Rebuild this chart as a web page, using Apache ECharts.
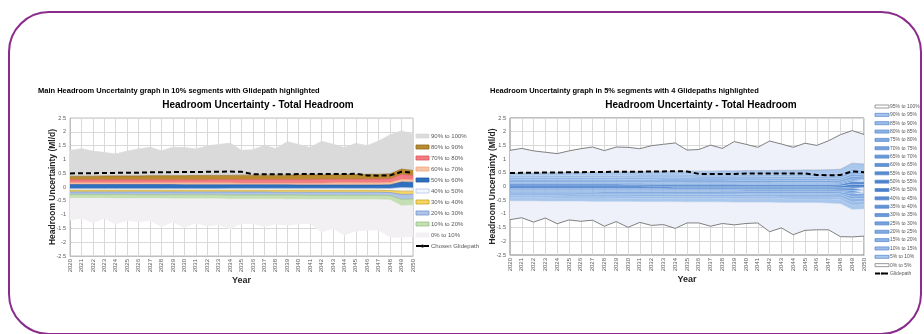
<!DOCTYPE html>
<html>
<head>
<meta charset="utf-8">
<script src="https://cdn.jsdelivr.net/npm/echarts@6/dist/echarts.min.js"></script>
<style>
  html, body { margin: 0; background: #fff; }
  #chart { width: 924px; height: 334px; }
</style>
</head>
<body>
<div id="chart"></div>
<script>
// 年份（X轴）
var years = ['2020','2021','2022','2023','2024','2025','2026','2027','2028','2029','2030',
  '2031','2032','2033','2034','2035','2036','2037','2038','2039','2040',
  '2041','2042','2043','2044','2045','2046','2047','2048','2049','2050'];
var yTicks = [-2.5, 2.5, 0.5]; // min, max, interval

// 各百分位边界 (Ml/d)
var p100 = [1.32,1.39,1.30,1.25,1.20,1.30,1.38,1.44,1.31,1.44,1.43,1.38,1.49,1.54,1.59,1.33,1.35,1.51,1.39,1.64,1.54,1.43,1.66,1.55,1.43,1.58,1.50,1.67,1.89,2.04,1.90];
var p95 = [0.48,0.49,0.49,0.50,0.50,0.51,0.51,0.52,0.52,0.53,0.53,0.54,0.54,0.55,0.55,0.56,0.56,0.56,0.57,0.57,0.58,0.58,0.58,0.59,0.59,0.60,0.60,0.61,0.63,0.85,0.82];
var p90 = [0.39,0.39,0.39,0.40,0.40,0.40,0.40,0.41,0.41,0.41,0.41,0.42,0.42,0.42,0.42,0.43,0.43,0.43,0.43,0.43,0.44,0.44,0.44,0.44,0.45,0.45,0.46,0.46,0.48,0.65,0.60];
var p85 = [0.32,0.32,0.32,0.32,0.33,0.33,0.33,0.33,0.33,0.33,0.34,0.34,0.34,0.34,0.34,0.34,0.35,0.35,0.35,0.35,0.35,0.35,0.36,0.36,0.36,0.36,0.37,0.37,0.39,0.55,0.51];
var p80 = [0.26,0.26,0.26,0.26,0.26,0.26,0.26,0.26,0.26,0.26,0.26,0.26,0.26,0.27,0.27,0.27,0.27,0.27,0.27,0.27,0.27,0.27,0.28,0.28,0.28,0.28,0.28,0.29,0.30,0.46,0.42];
var p75 = [0.20,0.20,0.20,0.20,0.20,0.20,0.20,0.20,0.20,0.20,0.20,0.20,0.20,0.20,0.20,0.20,0.20,0.20,0.20,0.21,0.21,0.21,0.21,0.21,0.21,0.21,0.21,0.22,0.23,0.37,0.34];
var p70 = [0.15,0.15,0.15,0.15,0.15,0.15,0.15,0.15,0.15,0.15,0.15,0.15,0.15,0.15,0.15,0.14,0.14,0.14,0.14,0.14,0.14,0.14,0.14,0.15,0.15,0.15,0.15,0.15,0.16,0.28,0.26];
var p65 = [0.12,0.12,0.12,0.12,0.12,0.12,0.12,0.12,0.12,0.12,0.12,0.12,0.11,0.11,0.11,0.11,0.11,0.11,0.11,0.11,0.11,0.11,0.11,0.11,0.11,0.11,0.11,0.11,0.12,0.23,0.21];
var p60 = [0.09,0.09,0.09,0.09,0.09,0.09,0.09,0.09,0.09,0.09,0.08,0.08,0.08,0.08,0.08,0.08,0.08,0.08,0.08,0.08,0.07,0.07,0.07,0.07,0.07,0.07,0.07,0.07,0.08,0.18,0.17];
var p55 = [0.02,0.02,0.02,0.02,0.02,0.02,0.02,0.02,0.02,0.02,0.02,0.02,0.01,0.01,0.01,0.01,0.01,0.01,0.01,0.01,0.01,0.01,0.01,0.01,0.01,0.01,0.01,0.01,0.02,0.08,0.07];
var p50 = [-0.06,-0.06,-0.06,-0.06,-0.06,-0.06,-0.06,-0.06,-0.06,-0.06,-0.06,-0.06,-0.06,-0.06,-0.05,-0.05,-0.05,-0.05,-0.05,-0.05,-0.05,-0.05,-0.05,-0.05,-0.05,-0.05,-0.05,-0.05,-0.05,-0.02,-0.03];
var p45 = [-0.09,-0.09,-0.09,-0.09,-0.09,-0.09,-0.09,-0.09,-0.09,-0.09,-0.09,-0.09,-0.09,-0.09,-0.09,-0.09,-0.09,-0.09,-0.09,-0.09,-0.09,-0.09,-0.09,-0.09,-0.09,-0.09,-0.09,-0.09,-0.09,-0.08,-0.09];
var p40 = [-0.12,-0.12,-0.12,-0.12,-0.12,-0.12,-0.12,-0.12,-0.12,-0.12,-0.12,-0.12,-0.12,-0.12,-0.12,-0.12,-0.12,-0.12,-0.12,-0.12,-0.12,-0.12,-0.12,-0.12,-0.12,-0.12,-0.12,-0.12,-0.13,-0.15,-0.15];
var p35 = [-0.15,-0.15,-0.15,-0.15,-0.15,-0.15,-0.15,-0.15,-0.15,-0.15,-0.15,-0.15,-0.15,-0.15,-0.15,-0.15,-0.15,-0.15,-0.15,-0.15,-0.16,-0.16,-0.16,-0.16,-0.16,-0.16,-0.16,-0.16,-0.17,-0.21,-0.20];
var p30 = [-0.18,-0.18,-0.18,-0.18,-0.18,-0.18,-0.18,-0.18,-0.18,-0.18,-0.18,-0.18,-0.18,-0.18,-0.18,-0.18,-0.18,-0.18,-0.19,-0.19,-0.19,-0.19,-0.19,-0.19,-0.19,-0.19,-0.19,-0.19,-0.20,-0.27,-0.26];
var p25 = [-0.23,-0.23,-0.23,-0.23,-0.23,-0.23,-0.23,-0.23,-0.24,-0.24,-0.24,-0.24,-0.24,-0.24,-0.24,-0.24,-0.24,-0.24,-0.24,-0.24,-0.25,-0.25,-0.25,-0.25,-0.25,-0.25,-0.25,-0.25,-0.26,-0.36,-0.34];
var p20 = [-0.27,-0.27,-0.27,-0.27,-0.27,-0.27,-0.28,-0.28,-0.28,-0.28,-0.28,-0.28,-0.28,-0.28,-0.29,-0.29,-0.29,-0.29,-0.29,-0.29,-0.29,-0.30,-0.30,-0.30,-0.30,-0.30,-0.30,-0.30,-0.31,-0.45,-0.43];
var p15 = [-0.34,-0.34,-0.34,-0.34,-0.34,-0.35,-0.35,-0.35,-0.35,-0.35,-0.35,-0.36,-0.36,-0.36,-0.36,-0.36,-0.36,-0.37,-0.37,-0.37,-0.37,-0.37,-0.37,-0.38,-0.38,-0.38,-0.38,-0.38,-0.39,-0.57,-0.54];
var p10 = [-0.41,-0.41,-0.41,-0.41,-0.42,-0.42,-0.42,-0.42,-0.42,-0.43,-0.43,-0.43,-0.43,-0.43,-0.44,-0.44,-0.44,-0.44,-0.44,-0.45,-0.45,-0.45,-0.45,-0.45,-0.46,-0.46,-0.46,-0.46,-0.47,-0.69,-0.66];
var p5 = [-0.52,-0.52,-0.52,-0.53,-0.53,-0.53,-0.53,-0.54,-0.54,-0.54,-0.54,-0.55,-0.55,-0.55,-0.55,-0.56,-0.56,-0.56,-0.56,-0.57,-0.57,-0.57,-0.57,-0.58,-0.58,-0.58,-0.58,-0.60,-0.62,-0.83,-0.81];
var p0 = [-1.21,-1.14,-1.30,-1.15,-1.36,-1.22,-1.27,-1.23,-1.45,-1.28,-1.49,-1.31,-1.42,-1.39,-1.53,-1.33,-1.33,-1.45,-1.35,-1.40,-1.35,-1.33,-1.65,-1.51,-1.76,-1.60,-1.58,-1.58,-1.83,-1.84,-1.81];
// 滑行路径
var glidepath = [0.49,0.50,0.50,0.51,0.51,0.52,0.52,0.53,0.53,0.54,0.54,0.54,0.55,0.55,0.56,0.55,0.46,0.46,0.46,0.46,0.47,0.47,0.47,0.47,0.47,0.48,0.42,0.41,0.42,0.55,0.52];

// 左图：10% 分段
var leftBounds = [p0, p10, p20, p30, p40, p50, p60, p70, p80, p90, p100];
var leftNames = ['0% to 10%','10% to 20%','20% to 30%','30% to 40%','40% to 50%',
  '50% to 60%','60% to 70%','70% to 80%','80% to 90%','90% to 100%'];
var leftFill = ['#f2f0f3','#c5dfb4','#b0c4e8','#f8d663','#f3f6fc','#2f6fbf','#f8c4a6','#f27c82','#b98a2f','#dadada'];
var leftLine = ['#f2f0f3','#98c27e','#7394d0','#c8a22a','#b4c4e4','#245c9e','#eea882','#d9575e','#8f6a20','#dadada'];

// 右图：5% 分段
var rightBounds = [p0, p5, p10, p15, p20, p25, p30, p35, p40, p45, p50, p55, p60, p65, p70, p75, p80, p85, p90, p95, p100];
var rightNames = ['0% to 5%','5% to 10%','10% to 15%','15% to 20%','20% to 25%','25% to 30%','30% to 35%',
  '35% to 40%','40% to 45%','45% to 50%','50% to 55%','55% to 60%','60% to 65%','65% to 70%','70% to 75%',
  '75% to 80%','80% to 85%','85% to 90%','90% to 95%','95% to 100%'];
var rightFill = ['#eef1f9','#a9c6ec','#9cbde8','#8eb3e4','#81aae0','#75a1dc','#6a99d8','#5f91d4','#5689d0','#4a80cb',
  '#4a80cb','#5689d0','#5f91d4','#6a99d8','#75a1dc','#81aae0','#8eb3e4','#9cbde8','#a9c6ec','#eef1f9'];

var FONT = '"Liberation Sans", Arial, sans-serif';
var LABEL = '#595959';

function diff(upper, lower) {
  return upper.map(function (v, i) { return Math.round((v - lower[i]) * 1000) / 1000; });
}

var series = [];
// 左图基线（不显示）
series.push({
  type: 'line', name: 'baseL', xAxisIndex: 0, yAxisIndex: 0, stack: 'L', stackStrategy: 'all',
  data: p0, symbol: 'none', lineStyle: { width: 0 }, silent: true
});
for (var i = 0; i < leftNames.length; i++) {
  series.push({
    type: 'line', name: leftNames[i], xAxisIndex: 0, yAxisIndex: 0, stack: 'L', stackStrategy: 'all',
    data: diff(leftBounds[i + 1], leftBounds[i]), symbol: 'none', silent: true,
    lineStyle: { color: leftLine[i], width: 0.7 },
    itemStyle: { color: leftFill[i] },
    areaStyle: { color: leftFill[i], opacity: 1 }
  });
}
series.push({
  type: 'line', name: 'Chosen Glidepath', xAxisIndex: 0, yAxisIndex: 0, data: glidepath,
  symbol: 'none', z: 5, lineStyle: { color: '#000', width: 2, type: [5, 3] }, itemStyle: { color: '#000' }
});

// 右图基线（灰色最小值线）
series.push({
  type: 'line', name: 'baseR', xAxisIndex: 1, yAxisIndex: 1, stack: 'R', stackStrategy: 'all',
  data: p0, symbol: 'none', lineStyle: { width: 1, color: '#808080' }, silent: true
});
for (var j = 0; j < rightNames.length; j++) {
  var outer = (j === rightNames.length - 1);
  series.push({
    type: 'line', name: rightNames[j], xAxisIndex: 1, yAxisIndex: 1, stack: 'R', stackStrategy: 'all',
    data: diff(rightBounds[j + 1], rightBounds[j]), symbol: 'none', silent: true,
    lineStyle: { color: outer ? '#808080' : (j === rightNames.length - 2 ? '#8aa0c6' : '#b7d0f0'), width: outer ? 1 : 0.6 },
    itemStyle: { color: rightFill[j] },
    areaStyle: { color: rightFill[j], opacity: 1 }
  });
}
series.push({
  type: 'line', name: 'Glidepath', xAxisIndex: 1, yAxisIndex: 1, data: glidepath,
  symbol: 'none', z: 5, lineStyle: { color: '#000', width: 2, type: [5, 3] }, itemStyle: { color: '#000' }
});

// 图例
var leftLegend = [];
for (var a = leftNames.length - 1; a >= 0; a--) {
  leftLegend.push({ name: leftNames[a], icon: 'rect',
    itemStyle: { color: leftFill[a], borderColor: leftLine[a], borderWidth: 0.8 } });
}
leftLegend.push({ name: 'Chosen Glidepath' });
var rightLegend = [];
for (var b = rightNames.length - 1; b >= 0; b--) {
  var ob = (b === 0 || b === rightNames.length - 1);
  rightLegend.push({ name: rightNames[b], icon: 'rect',
    itemStyle: { color: ob ? '#ffffff' : rightFill[b], borderColor: ob ? '#808080' : '#5f8fd0', borderWidth: 0.8 } });
}
rightLegend.push({ name: 'Glidepath' });

function xAxisOf(gi) {
  return {
    type: 'category', gridIndex: gi, data: years, boundaryGap: false,
    name: 'Year', nameLocation: 'middle', nameGap: 20, nameMoveOverlap: false,
    nameTextStyle: { fontFamily: FONT, fontWeight: 'bold', fontSize: 9, color: '#262626' },
    axisLine: { onZero: false, lineStyle: { color: '#bfbfbf', width: 1 } },
    axisTick: { show: false },
    axisLabel: { rotate: 90, interval: 0, fontSize: 6, color: LABEL, fontFamily: FONT, margin: 3 },
    splitLine: { show: true, interval: 0, lineStyle: { color: '#d9d9d9', width: 1 } }
  };
}
function yAxisOf(gi) {
  return {
    type: 'value', gridIndex: gi, min: yTicks[0], max: yTicks[1], interval: yTicks[2],
    name: 'Headroom Uncertainty (Ml/d)', nameLocation: 'middle', nameRotate: 90, nameGap: 13,
    nameMoveOverlap: false,
    nameTextStyle: { fontFamily: FONT, fontWeight: 'bold', fontSize: 8.5, color: '#262626' },
    axisLine: { show: true, lineStyle: { color: '#bfbfbf', width: 1 } },
    axisTick: { show: false },
    axisLabel: { fontSize: 5.5, color: LABEL, fontFamily: FONT, margin: 4 },
    splitLine: { show: true, lineStyle: { color: '#d9d9d9', width: 1 } }
  };
}

var chart = echarts.init(document.getElementById('chart'), null, { renderer: 'canvas' });
chart.setOption({
  animation: false,
  backgroundColor: '#ffffff',
  grid: [
    { left: 70, top: 118, width: 343, height: 138, show: true, borderColor: '#bfbfbf', borderWidth: 1 },
    { left: 510, top: 118, width: 354, height: 137, show: true, borderColor: '#808080', borderWidth: 1 }
  ],
  xAxis: [xAxisOf(0), xAxisOf(1)],
  yAxis: [yAxisOf(0), yAxisOf(1)],
  legend: [
    { orient: 'vertical', left: 415, top: 132, padding: 0, itemWidth: 13, itemHeight: 4, itemGap: 3,
      selectedMode: false, data: leftLegend,
      textStyle: { fontSize: 6, color: LABEL, fontFamily: FONT, lineHeight: 8, padding: [0, 0, 0, -3] } },
    { orient: 'vertical', left: 874, top: 103, padding: 0, itemWidth: 14, itemHeight: 3, itemGap: 1.35,
      selectedMode: false, data: rightLegend,
      textStyle: { fontSize: 5, color: LABEL, fontFamily: FONT, lineHeight: 7, padding: [0, 0, 0, -4] } }
  ],
  graphic: [
    { type: 'rect', silent: true, shape: { x: 9, y: 12, width: 912, height: 322, r: 40 },
      style: { fill: 'none', stroke: '#8a2c8c', lineWidth: 2 } },
    { type: 'text', x: 38, y: 91, silent: true,
      style: { text: 'Main Headroom Uncertainty graph in 10% segments with Glidepath highlighted',
        fontFamily: FONT, fontWeight: 'bold', fontSize: 7.5, fill: '#000', verticalAlign: 'middle' } },
    { type: 'text', x: 258, y: 105, silent: true,
      style: { text: 'Headroom Uncertainty - Total Headroom', align: 'center',
        fontFamily: FONT, fontWeight: 'bold', fontSize: 10, fill: '#000', verticalAlign: 'middle' } },
    { type: 'text', x: 490, y: 91, silent: true,
      style: { text: 'Headroom Uncertainty graph in 5% segments with 4 Glidepaths highlighted',
        fontFamily: FONT, fontWeight: 'bold', fontSize: 7.5, fill: '#000', verticalAlign: 'middle' } },
    { type: 'text', x: 701, y: 105, silent: true,
      style: { text: 'Headroom Uncertainty - Total Headroom', align: 'center',
        fontFamily: FONT, fontWeight: 'bold', fontSize: 10, fill: '#000', verticalAlign: 'middle' } }
  ],
  series: series
});
</script>
</body>
</html>
